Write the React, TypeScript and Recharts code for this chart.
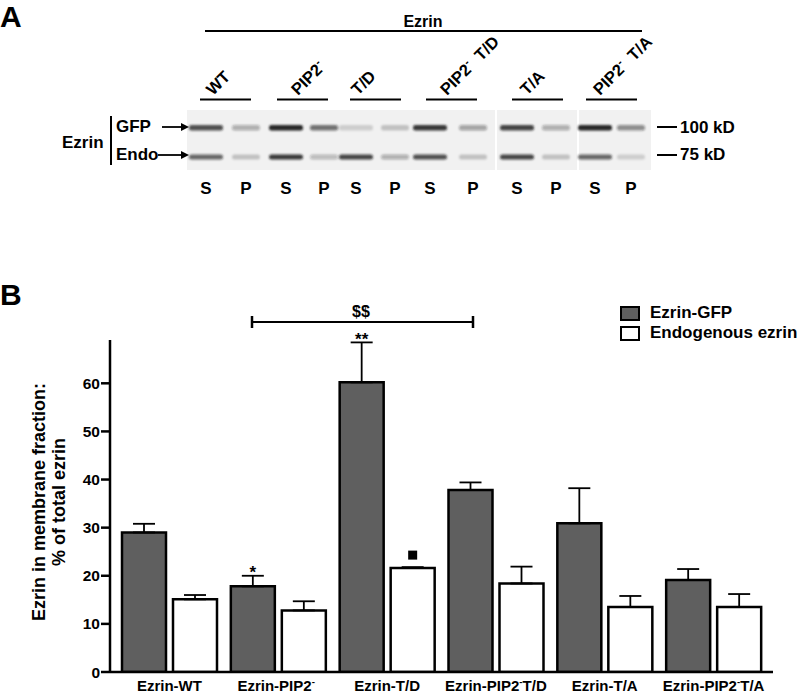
import { BarChart, Bar, XAxis, YAxis, ErrorBar, LabelList, Legend } from 'recharts';

// panel B data (% of total ezrin in membrane fraction, mean + SEM)
const groups = ['Ezrin-WT', 'Ezrin-PIP2-', 'Ezrin-T/D', 'Ezrin-PIP2-T/D', 'Ezrin-T/A', 'Ezrin-PIP2-T/A'];
const gfpMean = [29.0, 17.8, 60.2, 37.8, 30.9, 19.1];
const gfpSem = [1.8, 2.2, 8.3, 1.6, 7.3, 2.3];
const endoMean = [15.1, 12.8, 21.6, 18.4, 13.5, 13.5];
const endoSem = [0.9, 1.9, 0.2, 3.5, 2.3, 2.7];
const gfpMarks = ['', '*', '**', '', '', ''];
const endoMarks = ['', '', 'square', '', '', ''];
const yTicks = [0, 10, 20, 30, 40, 50, 60];
const seriesNames = ['Ezrin-GFP', 'Endogenous ezrin'];

// panel A (western blot) lanes and rough band darkness, S/P per construct
const laneNames = ['WT', 'PIP2-', 'T/D', 'PIP2-  T/D', 'T/A', 'PIP2-  T/A'];
const fractions = ['S', 'P'];
const gfpBands = [0.75, 0.3, 0.95, 0.6, 0.15, 0.2, 0.85, 0.35, 0.8, 0.3, 0.95, 0.45];
const endoBands = [0.65, 0.2, 0.85, 0.25, 0.8, 0.3, 0.75, 0.2, 0.8, 0.2, 0.65, 0.15];

const FONT = '"Liberation Sans", Arial, Helvetica, sans-serif';
const GFP_FILL = '#5f5f5f';

const LANE_X = [206, 246, 286, 324, 356, 395, 430, 473, 517, 556, 595, 631];
const LABEL_X = [213, 298, 358, 447, 527, 600];
const UNDERLINE = [[200, 251], [277, 328], [350, 401], [426, 477], [512, 563], [586, 637]];
const BLOT_PIECES = [[187, 495], [497, 577], [579, 651]];

const chartData = groups.map((g, i) => ({
  group: g,
  gfp: gfpMean[i],
  gfpErr: [0, gfpSem[i]],
  endo: endoMean[i],
  endoErr: [0, endoSem[i]],
}));

function Sup({ text, size }: { text: string; size: number }) {
  // renders "PIP2-" with the minus as superscript
  const parts = text.split('PIP2-');
  if (parts.length < 2) return <>{text}</>;
  return (
    <>
      <tspan>{parts[0]}PIP2</tspan>
      <tspan dy={-size * 0.4} fontSize={size * 0.65}>-</tspan>
      <tspan dy={size * 0.4} style={{ whiteSpace: 'pre' }}>{parts[1] || ' '}</tspan>
    </>
  );
}

function GroupTick({ x, y, payload }: any) {
  return (
    <text x={x} y={y} dy="0.71em" textAnchor="middle" fontSize={15} fontWeight="bold" fontFamily={FONT} fill="#000">
      <Sup text={payload.value} size={15} />
    </text>
  );
}

function GfpMark(props: any) {
  const { x, y, width, height, index } = props;
  const m = gfpMarks[index];
  if (!m) return null;
  const k = height / gfpMean[index];
  const top = y - gfpSem[index] * k;
  return (
    <text x={x + width / 2} y={top + 2.5} textAnchor="middle" fontSize={17} fontWeight="bold" fontFamily={FONT} fill="#000">
      {m}
    </text>
  );
}

function EndoMark(props: any) {
  const { x, y, width, height, index } = props;
  if (!endoMarks[index]) return null;
  const k = height / endoMean[index];
  const top = y - endoSem[index] * k;
  return <rect x={x + width / 2 - 4.5} y={top - 16.5} width={9} height={9} fill="#000" />;
}

function LegendBox({ payload }: any) {
  const fills: Record<string, string> = { 'Ezrin-GFP': GFP_FILL, 'Endogenous ezrin': '#fff' };
  const items = seriesNames.filter((n) => (payload || []).some((e: any) => e.value === n));
  return (
    <div style={{ fontFamily: FONT, fontWeight: 'bold', fontSize: 17 }}>
      {items.map((n) => (
        <div key={n} style={{ display: 'flex', alignItems: 'center', height: 20 }}>
          <div style={{ boxSizing: 'border-box', width: 20, height: 15, border: '2.5px solid #000', background: fills[n] }} />
          <span style={{ marginLeft: 10, whiteSpace: 'nowrap' }}>{n}</span>
        </div>
      ))}
    </div>
  );
}

function Arrow({ x1, x2, y }: { x1: number; x2: number; y: number }) {
  return (
    <g>
      <line x1={x1} y1={y} x2={x2 - 6} y2={y} stroke="#000" strokeWidth={1.8} />
      <path d={`M${x2},${y} L${x2 - 8},${y - 4} L${x2 - 8},${y + 4} Z`} fill="#000" />
    </g>
  );
}

function Annotations() {
  const bold = { fontFamily: FONT, fontWeight: 'bold' as const, fill: '#000' };
  return (
    <svg width={800} height={693} style={{ position: 'absolute', left: 0, top: 0, pointerEvents: 'none' }}>
      <defs>
        <filter id="band" x="-30%" y="-150%" width="160%" height="400%">
          <feGaussianBlur stdDeviation="1.2" />
        </filter>
      </defs>

      {/* panel A */}
      <text x={0} y={27} fontSize={30} {...bold}>A</text>
      <line x1={205} y1={31} x2={642} y2={31} stroke="#000" strokeWidth={2} />
      <text x={423} y={27} fontSize={16} textAnchor="middle" {...bold}>Ezrin</text>
      {laneNames.map((n, i) => (
        <g key={n}>
          <g transform={`rotate(-45 ${LABEL_X[i]} 96)`}>
            <text x={LABEL_X[i]} y={96} fontSize={16.5} {...bold}>
              <Sup text={n} size={16.5} />
            </text>
          </g>
          <line x1={UNDERLINE[i][0]} y1={99.5} x2={UNDERLINE[i][1]} y2={99.5} stroke="#000" strokeWidth={2} />
        </g>
      ))}
      {BLOT_PIECES.map(([a, b]) => (
        <rect key={a} x={a} y={110} width={b - a} height={60} fill="#f1f1f1" />
      ))}
      {LANE_X.map((cx, i) => {
        const w = i % 2 === 0 ? 34 : 28;
        return (
          <g key={cx} filter="url(#band)">
            <rect x={cx - w / 2} y={125} width={w} height={5.5} rx={2.5} fill="#1a1a1a" opacity={gfpBands[i]} />
            <rect x={cx - w / 2} y={154.5} width={w} height={5} rx={2.5} fill="#1a1a1a" opacity={endoBands[i]} />
          </g>
        );
      })}
      {LANE_X.map((cx, i) => (
        <text key={cx} x={cx} y={194} fontSize={17} textAnchor="middle" {...bold}>{fractions[i % 2]}</text>
      ))}
      <text x={62} y={148} fontSize={17} {...bold}>Ezrin</text>
      <line x1={111} y1={116} x2={111} y2={165} stroke="#000" strokeWidth={2} />
      <text x={116} y={132} fontSize={17} {...bold}>GFP</text>
      <text x={116} y={160} fontSize={17} {...bold}>Endo</text>
      <Arrow x1={162} x2={189} y={127} />
      <Arrow x1={158} x2={189} y={155} />
      <line x1={657} y1={127} x2={677} y2={127} stroke="#000" strokeWidth={2} />
      <line x1={657} y1={155} x2={677} y2={155} stroke="#000" strokeWidth={2} />
      <text x={680} y={133} fontSize={17} {...bold}>100 kD</text>
      <text x={680} y={160} fontSize={17} {...bold}>75 kD</text>

      {/* panel B */}
      <text x={0} y={305} fontSize={30} {...bold}>B</text>
      <line x1={252} y1={322} x2={473} y2={322} stroke="#000" strokeWidth={2} />
      <line x1={252} y1={316} x2={252} y2={328} stroke="#000" strokeWidth={2.5} />
      <line x1={473} y1={316} x2={473} y2={328} stroke="#000" strokeWidth={2.5} />
      <text x={361} y={317} fontSize={16} textAnchor="middle" {...bold}>$$</text>
      <text transform="translate(45,502) rotate(-90)" fontSize={18} textAnchor="middle" {...bold}>
        Ezrin in membrane fraction:
      </text>
      <text transform="translate(65,502) rotate(-90)" fontSize={18} textAnchor="middle" {...bold}>
        % of total ezrin
      </text>
    </svg>
  );
}

export default function App() {
  return (
    <div style={{ position: 'absolute', left: 0, top: 0, width: 800, height: 693, background: '#fff' }}>
      <BarChart
        width={800}
        height={693}
        data={chartData}
        margin={{ top: 340, right: 27, bottom: 0, left: 50 }}
        barSize={44}
        barGap={7}
      >
        <XAxis
          dataKey="group"
          height={21}
          interval={0}
          padding={{ left: 5, right: 5 }}
          axisLine={{ stroke: '#000', strokeWidth: 2.5 }}
          tickLine={false}
          tickSize={0}
          tickMargin={8}
          tick={<GroupTick />}
        />
        <YAxis
          width={60}
          domain={[0, 69]}
          ticks={yTicks}
          allowDataOverflow
          tickSize={9}
          tickMargin={1}
          axisLine={{ stroke: '#000', strokeWidth: 2.5 }}
          tickLine={{ stroke: '#000', strokeWidth: 2.5 }}
          tick={{ fill: '#000', fontSize: 15.5, fontWeight: 'bold', fontFamily: FONT }}
        />
        <Legend
          layout="vertical"
          align="center"
          verticalAlign="middle"
          wrapperStyle={{ position: 'absolute', left: 620, top: 303, width: 180 }}
          content={<LegendBox />}
        />
        <Bar dataKey="gfp" name="Ezrin-GFP" fill={GFP_FILL} stroke="#000" strokeWidth={2.5} isAnimationActive={false}>
          <ErrorBar dataKey="gfpErr" direction="y" width={11} stroke="#000" strokeWidth={1.8} />
          <LabelList dataKey="gfp" content={<GfpMark />} />
        </Bar>
        <Bar dataKey="endo" name="Endogenous ezrin" fill="#fff" stroke="#000" strokeWidth={2.5} isAnimationActive={false}>
          <ErrorBar dataKey="endoErr" direction="y" width={11} stroke="#000" strokeWidth={1.8} />
          <LabelList dataKey="endo" content={<EndoMark />} />
        </Bar>
      </BarChart>
      <Annotations />
    </div>
  );
}
